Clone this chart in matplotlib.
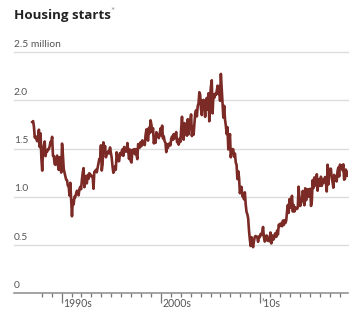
import numpy as np
import matplotlib
matplotlib.use("Agg")
import matplotlib.pyplot as plt

plt.rcParams["font.family"] = ["Lato", "DejaVu Sans"]

# monthly housing starts, seasonally adjusted annual rate, millions (Jan 1987 - Nov 2018)
start_year = 1987
starts = [
    # 1987
    1.774, 1.784, 1.726, 1.614, 1.628, 1.594, 1.575, 1.605, 1.695, 1.515, 1.656, 1.400,
    # 1988
    1.271, 1.473, 1.532, 1.573, 1.421, 1.478, 1.467, 1.493, 1.492, 1.522, 1.569, 1.563,
    # 1989
    1.621, 1.425, 1.422, 1.339, 1.331, 1.397, 1.427, 1.332, 1.279, 1.410, 1.351, 1.251,
    # 1990
    1.551, 1.437, 1.289, 1.248, 1.212, 1.177, 1.171, 1.115, 1.110, 1.014, 1.145, 0.969,
    # 1991
    0.798, 0.965, 0.921, 1.001, 0.996, 1.036, 1.063, 1.049, 1.015, 1.079, 1.103, 1.079,
    # 1992
    1.176, 1.250, 1.297, 1.099, 1.214, 1.145, 1.139, 1.226, 1.186, 1.244, 1.214, 1.227,
    # 1993
    1.210, 1.210, 1.083, 1.258, 1.260, 1.280, 1.254, 1.300, 1.343, 1.392, 1.376, 1.533,
    # 1994
    1.272, 1.337, 1.564, 1.465, 1.526, 1.409, 1.439, 1.450, 1.474, 1.450, 1.511, 1.455,
    # 1995
    1.407, 1.316, 1.249, 1.267, 1.314, 1.281, 1.461, 1.416, 1.369, 1.369, 1.452, 1.431,
    # 1996
    1.467, 1.491, 1.424, 1.516, 1.504, 1.467, 1.472, 1.557, 1.475, 1.392, 1.489, 1.370,
    # 1997
    1.355, 1.486, 1.457, 1.492, 1.442, 1.494, 1.437, 1.390, 1.546, 1.520, 1.510, 1.566,
    # 1998
    1.525, 1.584, 1.567, 1.540, 1.536, 1.641, 1.698, 1.614, 1.582, 1.715, 1.660, 1.792,
    # 1999
    1.748, 1.670, 1.710, 1.553, 1.611, 1.559, 1.669, 1.648, 1.635, 1.608, 1.648, 1.708,
    # 2000
    1.636, 1.737, 1.604, 1.626, 1.575, 1.559, 1.463, 1.541, 1.507, 1.549, 1.551, 1.532,
    # 2001
    1.600, 1.625, 1.590, 1.649, 1.605, 1.636, 1.670, 1.567, 1.562, 1.540, 1.602, 1.568,
    # 2002
    1.698, 1.829, 1.642, 1.592, 1.764, 1.717, 1.655, 1.633, 1.804, 1.648, 1.753, 1.788,
    # 2003
    1.853, 1.629, 1.726, 1.643, 1.751, 1.867, 1.897, 1.833, 1.939, 1.967, 2.083, 2.057,
    # 2004
    1.911, 1.846, 1.998, 2.003, 1.981, 1.828, 2.002, 2.024, 1.905, 2.072, 1.782, 2.042,
    # 2005
    2.144, 2.207, 1.864, 2.061, 2.025, 2.068, 2.054, 2.095, 2.151, 2.065, 2.147, 1.994,
    # 2006
    2.273, 2.119, 1.969, 1.821, 1.942, 1.802, 1.737, 1.650, 1.720, 1.491, 1.570, 1.649,
    # 2007
    1.409, 1.480, 1.495, 1.490, 1.415, 1.448, 1.354, 1.330, 1.183, 1.264, 1.197, 1.037,
    # 2008
    1.084, 1.103, 1.005, 1.013, 0.973, 1.046, 0.923, 0.844, 0.820, 0.777, 0.652, 0.560,
    # 2009
    0.490, 0.582, 0.505, 0.478, 0.540, 0.585, 0.594, 0.586, 0.585, 0.534, 0.588, 0.581,
    # 2010
    0.614, 0.604, 0.636, 0.687, 0.583, 0.536, 0.546, 0.599, 0.594, 0.543, 0.545, 0.539,
    # 2011
    0.630, 0.517, 0.600, 0.554, 0.561, 0.608, 0.623, 0.585, 0.650, 0.610, 0.711, 0.694,
    # 2012
    0.723, 0.704, 0.695, 0.753, 0.708, 0.757, 0.728, 0.754, 0.847, 0.915, 0.833, 0.976,
    # 2013
    0.888, 0.962, 1.010, 0.847, 0.915, 0.848, 0.891, 0.876, 0.873, 0.889, 1.105, 0.991,
    # 2014
    0.905, 0.937, 0.963, 1.060, 1.018, 0.912, 1.088, 0.964, 1.017, 1.078, 1.001, 1.074,
    # 2015
    1.083, 0.905, 0.959, 1.173, 1.091, 1.200, 1.116, 1.156, 1.233, 1.063, 1.179, 1.146,
    # 2016
    1.114, 1.208, 1.113, 1.175, 1.142, 1.180, 1.204, 1.149, 1.055, 1.332, 1.128, 1.290,
    # 2017
    1.252, 1.291, 1.198, 1.153, 1.094, 1.227, 1.176, 1.174, 1.159, 1.264, 1.303, 1.210,
    # 2018
    1.333, 1.290, 1.327, 1.276, 1.336, 1.177, 1.184, 1.282, 1.237, 1.217, 1.256,
]

y_ticks = [0, 0.5, 1.0, 1.5, 2.0, 2.5]
y_labels = ["0", "0.5", "1.0", "1.5", "2.0", "2.5 million"]
x_major = [1990, 2000, 2010]
x_labels = ["1990s", "2000s", "’10s"]
x_minor = list(range(1988, 2019))

line_color = "#7b2a25"
text_color = "#555555"

dates = start_year + (np.arange(len(starts)) + 0.5) / 12

fig = plt.figure(figsize=(3.6, 3.25), dpi=100)
ax = fig.add_axes([14 / 360, 31.7 / 325, 334 / 360, 241.3 / 325])
ax.set_xlim(1985.2, 2018.85)
ax.set_ylim(0, 2.5)

for v in y_ticks[1:]:
    ax.axhline(v, color="#dddddd", lw=1.0, zorder=1, clip_on=False)
ax.axhline(0, color="#8a8a8a", lw=1.1, zorder=3, clip_on=False)

ax.plot(dates, starts, color=line_color, lw=1.9, zorder=2, solid_joinstyle="round")

for v, lab in zip(y_ticks, y_labels):
    ax.annotate(lab, (0, v), xycoords=("axes fraction", "data"),
                xytext=(0, 2.5), textcoords="offset points",
                ha="left", va="bottom", fontsize=7.4, color=text_color)

for s in ax.spines.values():
    s.set_visible(False)
ax.set_yticks([])
ax.set_xticks(x_major)
ax.set_xticklabels([])
ax.set_xticks(x_minor, minor=True)
ax.tick_params(axis="x", which="major", length=7.5, width=0.9, color="#777777")
ax.tick_params(axis="x", which="minor", length=3, width=0.9, color="#777777")

for yr, lab in zip(x_major, x_labels):
    ax.annotate(lab, (yr, 0), xycoords=("data", "axes fraction"),
                xytext=(1, -3.5), textcoords="offset points",
                ha="left", va="top", fontsize=7.6, color=text_color)

fig.text(14 / 360, 1 - 16 / 325, "Housing starts", fontsize=9.6, fontweight="bold",
         family=["Open Sans", "DejaVu Sans"], color="#222222", ha="left", va="center")
fig.text(110 / 360, 1 - 12 / 325, "*", fontsize=7, color="#9a8f8a",
         ha="left", va="center")

fig.savefig("out.png", dpi=100)
